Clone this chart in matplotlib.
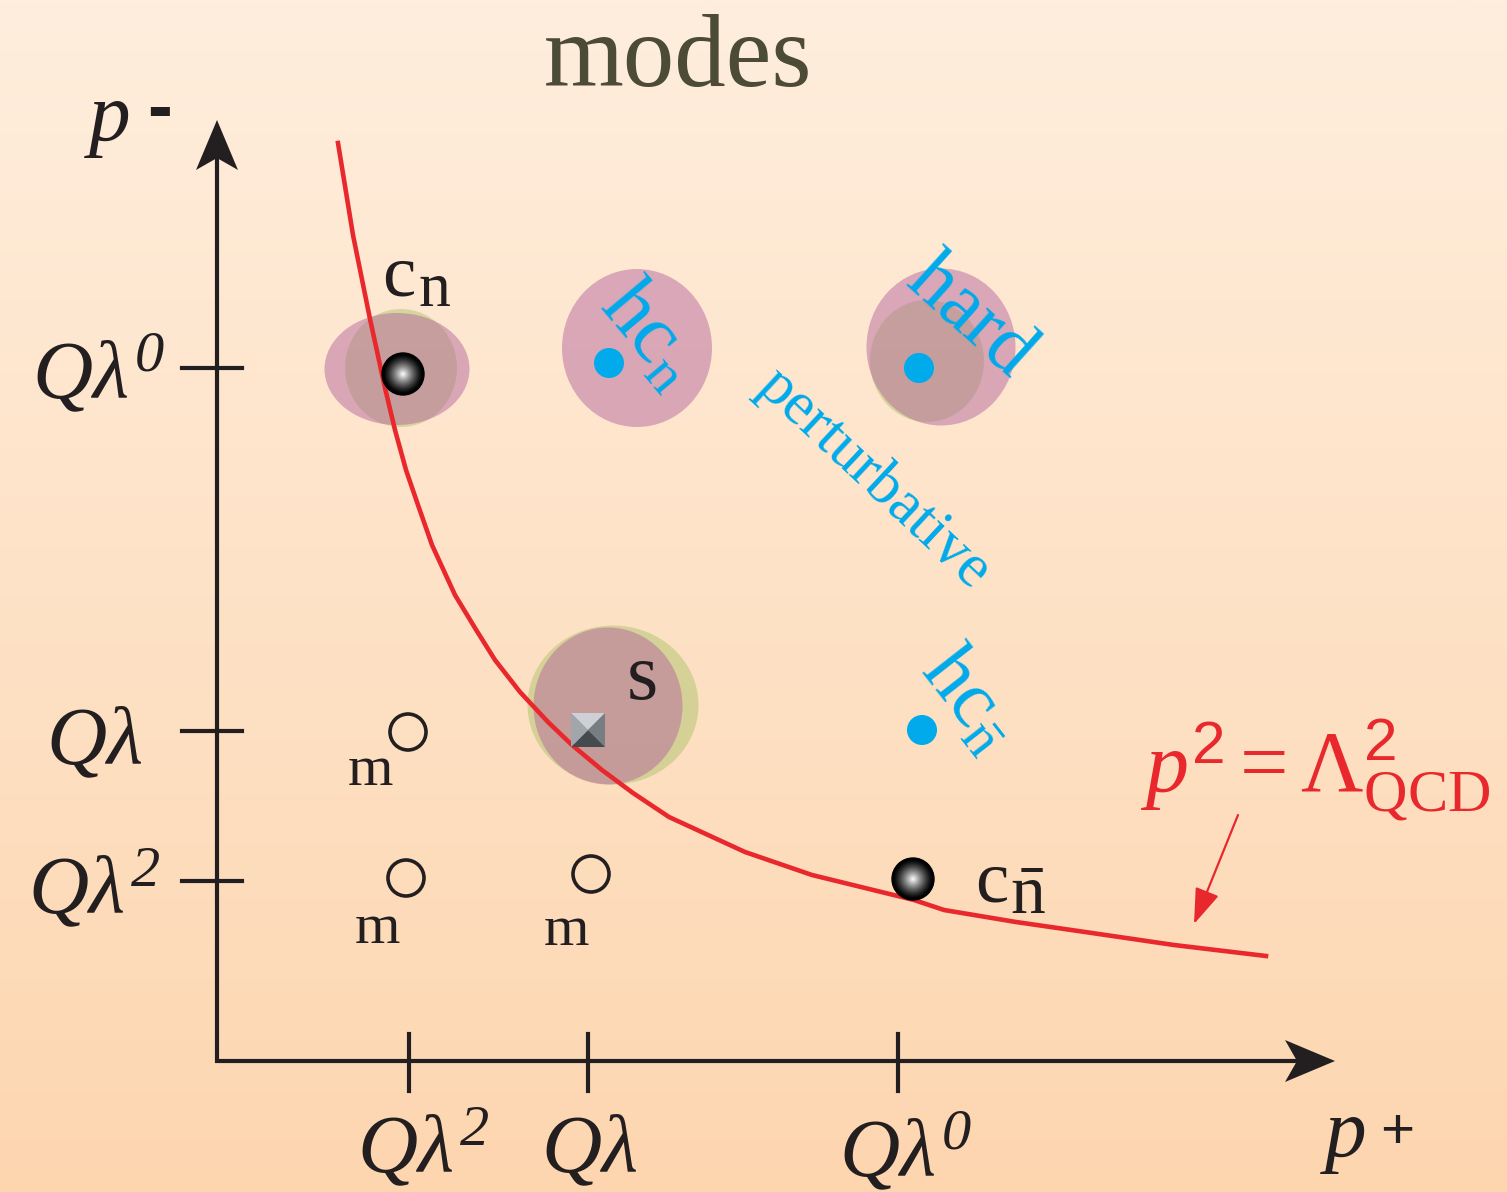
import numpy as np
import matplotlib
matplotlib.use('Agg')
import matplotlib.pyplot as plt
from matplotlib.patches import Ellipse, Circle, Polygon

plt.rcParams['mathtext.fontset'] = 'custom'
plt.rcParams['mathtext.rm'] = 'Liberation Serif'
plt.rcParams['mathtext.it'] = 'Liberation Serif:italic'
plt.rcParams['mathtext.bf'] = 'Liberation Sans'           # used for the sans "2" in the red label
plt.rcParams['mathtext.sf'] = 'Liberation Serif:italic'   # used for italic superscript digits
plt.rcParams['mathtext.fallback'] = 'stix'
plt.rcParams['font.family'] = ['Liberation Serif', 'DejaVu Serif']

W, H = 1507, 1192

# ---------------- data (diagram positions) ----------------
title = 'modes'
axis_origin = (217, 1061)
axis_top = 120
axis_right = 1335

x_ticks = [409, 588, 898]
x_tick_labels = [r'$Q\lambda^{\mathsf{2}}$', r'$Q\lambda$', r'$Q\lambda^{\mathsf{0}}$']
x_label_x = [423, 589, 905]
x_label_base = [1172, 1172, 1176]

y_ticks = [368, 731, 881]
y_tick_labels = [r'$Q\lambda^{\mathsf{0}}$', r'$Q\lambda$', r'$Q\lambda^{\mathsf{2}}$']
y_label_right = [165, 142, 160]
y_label_base = [398, 764, 913]

curve_x = [338, 353, 370, 385, 395, 406, 418, 432, 455, 475, 495, 520, 548, 572, 602,
           633, 669, 745, 812, 914, 944, 1016, 1092, 1174, 1266]
curve_y = [143, 235, 319, 388, 430, 470, 505, 545, 595, 628, 660, 692, 722, 745, 770,
           793, 817, 852, 875, 900, 910, 922, 933, 945, 956]

# mode regions: (cx, cy, width, height)
green_regions = [(401, 368, 112, 118), (613, 705, 171, 159), (927, 361, 114, 122)]
pink_regions = [(397, 369, 145, 112), (637, 348, 150, 158), (608, 706, 149, 157),
                (941, 347, 149, 157)]

sphere_pts = [(403, 374), (913, 879)]
sphere_r = 21
cyan_pts = [(609, 363), (919, 368), (922, 730)]
cyan_r = 15
open_pts = [(408, 732), (406, 878), (591, 874)]
open_r = 18
soft_pt = (588, 730)
soft_size = 34

m_labels = [(370, 785), (377, 943), (566, 945)]

blue_texts = [(r'$\mathrm{hc}_{\mathrm{n}}$', 650, 335, -50, 60),
              (r'$\mathrm{hard}$', 971, 316, -42, 58),
              (r'$\mathrm{perturbative}$', 873, 478, -43, 44),
              (r'$\mathrm{hc}_{\bar{\mathrm{n}}}$', 968, 700, -52, 58)]

RED = '#E8282D'
BLUE = '#00AAEB'
PINK = (182/255, 104/255, 158/255)
GREEN = (174/255, 196/255, 108/255)

# ---------------- figure ----------------
fig = plt.figure(figsize=(W/100, H/100), dpi=100)
ax = fig.add_axes([0, 0, 1, 1])
ax.axis('off')

# background gradient
top = np.array([255, 238, 221]) / 255
bot = np.array([253, 214, 176]) / 255
t = np.linspace(0, 1, 256)[:, None, None]
grad = top[None, None, :] * (1 - t) + bot[None, None, :] * t
grad = np.repeat(grad, 2, axis=1)
ax.imshow(grad, extent=(0, W, H, 0), aspect='auto', zorder=0, interpolation='bilinear')

# title
ax.text(678, 86, title, fontsize=74, color='#4C4B36', ha='center', va='baseline', zorder=10)

# mode regions
for (cx, cy, w, h) in green_regions:
    ax.add_patch(Ellipse((cx, cy), w, h, facecolor=GREEN, alpha=0.5, edgecolor='none', zorder=2))
for (cx, cy, w, h) in pink_regions:
    ax.add_patch(Ellipse((cx, cy), w, h, facecolor=PINK, alpha=0.5, edgecolor='none', zorder=3))

# axes with arrows
ox, oy = axis_origin
ax.plot([ox, ox], [oy + 2, axis_top + 30], color='#231F20', lw=3.0, solid_capstyle='butt', zorder=5)
ax.plot([ox - 2, axis_right - 30], [oy, oy], color='#231F20', lw=3.0, solid_capstyle='butt', zorder=5)
hl, hw, notch = 50, 21, 12
ax.add_patch(Polygon([(ox, axis_top), (ox - hw, axis_top + hl), (ox, axis_top + hl - notch),
                      (ox + hw, axis_top + hl)], closed=True, facecolor='#231F20', edgecolor='none', zorder=5))
ax.add_patch(Polygon([(axis_right, oy), (axis_right - hl, oy - hw), (axis_right - hl + notch, oy),
                      (axis_right - hl, oy + hw)], closed=True, facecolor='#231F20', edgecolor='none', zorder=5))

# ticks
for xv in x_ticks:
    ax.plot([xv, xv], [oy - 27, oy + 30], color='#231F20', lw=3.0, zorder=5)
for yv in y_ticks:
    ax.plot([182, 242], [yv, yv], color='#231F20', lw=3.0, zorder=5)

for lab, xv, yb in zip(x_tick_labels, x_label_x, x_label_base):
    ax.text(xv, yb, lab, fontsize=60, color='#231F20', ha='center', va='baseline', zorder=10)
for lab, xr, yb in zip(y_tick_labels, y_label_right, y_label_base):
    ax.text(xr, yb, lab, fontsize=60, color='#231F20', ha='right', va='baseline', zorder=10)

# axis names
ax.text(84, 140, r'$p$', fontsize=60, color='#231F20', ha='left', va='baseline', zorder=10)
ax.text(160, 112, '-', fontsize=54, color='#231F20', ha='center', va='center',
        family='Liberation Sans', fontweight='bold', zorder=10)
ax.text(1320, 1156, r'$p$', fontsize=60, color='#231F20', ha='left', va='baseline', zorder=10)
ax.text(1397, 1133, '+', fontsize=42, color='#231F20', ha='center', va='center',
        family='Liberation Sans', zorder=10)

# red curve
ax.plot(curve_x, curve_y, color=RED, lw=3.3, zorder=4, solid_joinstyle='round')

# red label and arrow
ax.text(1140, 790, r'$p^{\mathbf{2}} = \Lambda^{\mathbf{2}}_{\mathrm{QCD}}$', fontsize=62,
        color=RED, ha='left', va='baseline', zorder=10)
ax.annotate('', xy=(1194, 924), xytext=(1238, 815),
            arrowprops=dict(arrowstyle='-|>,head_length=1.0,head_width=0.35', color=RED,
                            lw=1.6, mutation_scale=22, shrinkA=0, shrinkB=0), zorder=10)

# spheres
n = 121
yy, xx = np.mgrid[-1:1:n * 1j, -1:1:n * 1j]
d = np.sqrt(xx ** 2 + yy ** 2)
val = np.clip(1 - d / 0.95, 0, 1) ** 1.3
for (cx, cy) in sphere_pts:
    im = ax.imshow(val, cmap='gray', vmin=0, vmax=1,
                   extent=(cx - sphere_r, cx + sphere_r, cy + sphere_r, cy - sphere_r),
                   interpolation='bilinear', zorder=6)
    c = Circle((cx, cy), sphere_r, facecolor='none', edgecolor='black', lw=1.0, zorder=7)
    ax.add_patch(c)
    im.set_clip_path(c)

# cyan dots
for (cx, cy) in cyan_pts:
    ax.add_patch(Circle((cx, cy), cyan_r, facecolor=BLUE, edgecolor='none', zorder=6))

# open circles
for (cx, cy) in open_pts:
    ax.add_patch(Circle((cx, cy), open_r, facecolor='none', edgecolor='#231F20', lw=2.6, zorder=6))

# soft square (pyramid shading)
sx, sy = soft_pt
hs = soft_size / 2
corners = {'tl': (sx - hs, sy - hs), 'tr': (sx + hs, sy - hs), 'br': (sx + hs, sy + hs), 'bl': (sx - hs, sy + hs)}
faces = [(('tl', 'tr'), '#CDD0D6'), (('tr', 'br'), '#767E82'),
         (('br', 'bl'), '#444B4E'), (('bl', 'tl'), '#A0A6AA')]
for (a, b), col in faces:
    ax.add_patch(Polygon([corners[a], corners[b], (sx, sy)], closed=True, facecolor=col,
                         edgecolor='none', zorder=6))

# black labels
ax.text(382, 296, 'c', fontsize=54, color='#231F20', ha='left', va='baseline', zorder=10)
ax.text(418, 306, 'n', fontsize=46, color='#231F20', ha='left', va='baseline', zorder=10)
ax.text(975, 901, 'c', fontsize=54, color='#231F20', ha='left', va='baseline', zorder=10)
ax.text(1010, 914, r'$\bar{\mathrm{n}}$', fontsize=50, color='#231F20', ha='left', va='baseline', zorder=10)
ax.text(642, 699, 's', fontsize=58, color='#231F20', ha='center', va='baseline', zorder=10)
for (mx, my) in m_labels:
    ax.text(mx, my, 'm', fontsize=42, color='#231F20', ha='center', va='baseline', zorder=10)

# blue rotated labels
for s, cx, cy, rot, fs in blue_texts:
    ax.text(cx, cy, s, fontsize=fs, color=BLUE, rotation=rot, rotation_mode='anchor',
            ha='center', va='center', zorder=10)

ax.set_xlim(0, W)
ax.set_ylim(H, 0)
ax.set_aspect('auto')
fig.savefig('out.png', dpi=100)
